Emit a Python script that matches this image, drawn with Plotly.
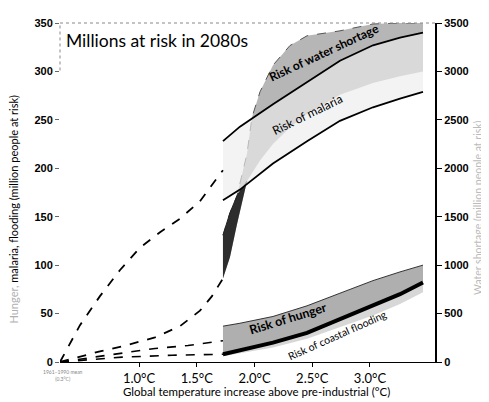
import plotly.graph_objects as go

# ---------------- data ----------------
# x positions in degrees C above pre-industrial
band_x = [1.727, 1.874, 2.160, 2.455, 2.740, 3.026, 3.260, 3.459]

# left axis: million people at risk
malaria_upper = [228, 243, 266, 289, 311, 327, 335, 340]
malaria_lower = [167, 178, 205, 228, 249, 263, 272, 279]

hunger_upper = [37, 40, 47, 58, 71, 84, 93, 100]
flood_line = [8, 12, 20, 30, 44, 58, 70, 82]
flood_lower = [6, 9, 15, 24, 36, 48, 60, 72]

# right axis: million people at risk of water shortage
water_x = [1.727, 1.788, 1.848, 1.935, 1.978, 2.048, 2.160, 2.307, 2.455, 2.740, 3.026, 3.260, 3.459]
water_upper = [1309, 1542, 1714, 2150, 2526, 2790, 3064, 3267, 3368, 3419, 3490, 3500, 3500]
water_lower = [862, 1085, 1420, 1867, 1950, 2080, 2250, 2420, 2560, 2760, 2880, 2950, 3000]

wedge_x = [1.727, 1.788, 1.848, 1.935]
wedge_upper = [1309, 1542, 1714, 1867]
wedge_lower = [862, 1085, 1420, 1867]

malaria_dash_x = [0.316, 0.489, 0.662, 0.836, 1.009, 1.182, 1.355, 1.528, 1.701, 1.727]
malaria_dash_y = [0, 38, 68, 95, 118, 134, 148, 166, 194, 198]

water_dash_x = [0.316, 0.662, 0.853, 1.139, 1.355, 1.528, 1.632, 1.727]
water_dash_y = [0, 110, 160, 255, 370, 530, 680, 862]

hunger_dash_x = [0.316, 0.853, 1.139, 1.424, 1.727]
hunger_dash_y = [0, 9, 14, 17, 22]

flood_dash_x = [0.316, 0.853, 1.286, 1.727]
flood_dash_y = [0, 5, 7, 8]

x_tickvals = [1.0, 1.5, 2.0, 2.5, 3.0]
x_ticktext = ["1.0°C", "1.5°C", "2.0°C", "2.5°C", "3.0°C"]
left_ticks = [0, 50, 100, 150, 200, 250, 300, 350]
right_ticks = [0, 500, 1000, 1500, 2000, 2500, 3000, 3500]

LEFT_MAX = 350
RIGHT_MAX = 3500
# the right axis is 10x the left one; water bands are drawn on the left axis
# (converted with this ratio) so that the malaria band can sit on top of them
R = LEFT_MAX / RIGHT_MAX

# ---------------- figure ----------------
fig = go.Figure()

def band(x, lo, hi, fill, yaxis="y", line_color="rgba(0,0,0,0)", line_width=0, dash=None):
    fig.add_trace(go.Scatter(x=x, y=lo, mode="lines", yaxis=yaxis,
                             line=dict(color="rgba(0,0,0,0)", width=0),
                             hoverinfo="skip", showlegend=False))
    fig.add_trace(go.Scatter(x=x, y=hi, mode="lines", yaxis=yaxis, fill="tonexty",
                             fillcolor=fill,
                             line=dict(color=line_color, width=line_width, dash=dash),
                             hoverinfo="skip", showlegend=False))

# water shortage band
band(water_x, [v * R for v in water_lower], [v * R for v in water_upper], "rgb(182,182,182)",
     line_color="#555", line_width=1, dash="dash")
band(wedge_x, [v * R for v in wedge_lower], [v * R for v in wedge_upper], "rgb(45,45,45)",
     line_color="#222", line_width=1)

# malaria band (semi-transparent so the water band shows through)
band(band_x, malaria_lower, malaria_upper, "rgba(236,236,236,0.65)")
# coastal flooding light band
band(band_x, flood_lower, flood_line, "rgb(215,215,215)")
# hunger band
band(band_x, flood_line, hunger_upper, "rgb(175,175,175)", line_color="#333", line_width=1)

# malaria lines
for ys in (malaria_upper, malaria_lower):
    fig.add_trace(go.Scatter(x=band_x, y=ys, mode="lines",
                             line=dict(color="black", width=1.8),
                             hoverinfo="skip", showlegend=False))
# coastal flooding thick line
fig.add_trace(go.Scatter(x=band_x, y=flood_line, mode="lines",
                         line=dict(color="black", width=4),
                         hoverinfo="skip", showlegend=False))

# dashed lines from the origin
fig.add_trace(go.Scatter(x=malaria_dash_x, y=malaria_dash_y, mode="lines",
                         line=dict(color="black", width=1.8, dash="dash"),
                         hoverinfo="skip", showlegend=False))
fig.add_trace(go.Scatter(x=water_dash_x, y=water_dash_y, mode="lines", yaxis="y2",
                         line=dict(color="black", width=1.8, dash="dash"),
                         hoverinfo="skip", showlegend=False))
fig.add_trace(go.Scatter(x=hunger_dash_x, y=hunger_dash_y, mode="lines",
                         line=dict(color="black", width=1.6, dash="dash"),
                         hoverinfo="skip", showlegend=False))
fig.add_trace(go.Scatter(x=flood_dash_x, y=flood_dash_y, mode="lines",
                         line=dict(color="black", width=1.6, dash="dash"),
                         hoverinfo="skip", showlegend=False))

FONT = "Lato, 'Open Sans', sans-serif"
NUMFONT = "'Liberation Sans', Arial, sans-serif"

# the page has an 8px body margin, so the figure is sized to fit the 489x402 window
# plot area lands at x 60..435, y 17..362 in the window
fig.update_layout(
    width=481, height=394,
    margin=dict(l=52, r=54, t=9, b=40),
    paper_bgcolor="white", plot_bgcolor="white",
    showlegend=False,
    xaxis=dict(range=[0.316, 3.563], tickvals=x_tickvals, ticktext=x_ticktext,
               showgrid=False, zeroline=False, showline=True, linecolor="black", linewidth=1,
               ticks="outside", ticklen=4, tickcolor="black",
               tickfont=dict(family=FONT, size=13, color="black")),
    yaxis=dict(range=[0, LEFT_MAX], tickvals=left_ticks, showgrid=False, zeroline=False,
               showline=False, ticks="outside", ticklen=4, tickcolor="#666",
               tickfont=dict(family=NUMFONT, size=11, color="black", weight="bold")),
    yaxis2=dict(range=[0, RIGHT_MAX], tickvals=right_ticks, overlaying="y", side="right",
                showgrid=False, zeroline=False, showline=True, linecolor="black", linewidth=2,
                ticks="outside", ticklen=5, tickcolor="black",
                tickfont=dict(family=NUMFONT, size=11, color="black", weight="bold")),
    shapes=[
        dict(type="line", xref="paper", yref="paper", x0=0, x1=1, y0=1, y1=1,
             line=dict(color="#888", width=1, dash="dot")),
        dict(type="line", xref="paper", yref="paper", x0=0, x1=0, y0=0.86, y1=1,
             line=dict(color="#888", width=1, dash="dot")),
    ],
)

ann = [
    dict(text="Millions at risk in 2080s", xref="paper", yref="paper", x=0.01, y=0.985,
         xanchor="left", yanchor="top", showarrow=False,
         font=dict(family=FONT, size=17.5, color="black")),
    dict(text="Risk of water shortage", x=2.60, y=320, xref="x", yref="y", textangle=-25,
         showarrow=False, font=dict(family=FONT, size=12, color="black", weight="bold")),
    dict(text="Risk of malaria", x=2.455, y=256, xref="x", yref="y", textangle=-26,
         showarrow=False, font=dict(family=FONT, size=12, color="black")),
    dict(text="Risk of hunger", x=2.29, y=45, xref="x", yref="y", textangle=-17,
         showarrow=False, font=dict(family=FONT, size=12.5, color="black", weight="bold")),
    dict(text="Risk of coastal flooding", x=2.72, y=28, xref="x", yref="y", textangle=-24,
         showarrow=False, font=dict(family=FONT, size=10.5, color="black")),
    dict(text="Global temperature increase above pre-industrial (°C)", xref="paper", yref="paper",
         x=0.525, y=-0.088, xanchor="center", yanchor="middle", showarrow=False,
         font=dict(family=FONT, size=11.5, color="black")),
    dict(text="<span style='color:#b0b0b0'>Hunger,</span> malaria, flooding (million people at risk)",
         xref="paper", yref="paper", x=-0.125, y=0.45, textangle=-90, showarrow=False,
         xanchor="center", yanchor="middle", font=dict(family=FONT, size=11, color="black")),
    dict(text="Water shortage (million people at risk)", xref="paper", yref="paper",
         x=1.115, y=0.455, textangle=-90, showarrow=False, xanchor="center", yanchor="middle",
         font=dict(family=FONT, size=10.5, color="#bbbbbb")),
    dict(text="1961–1990 mean<br>(0.3°C)", xref="paper", yref="paper", x=0.008, y=-0.04,
         xanchor="center", yanchor="middle", showarrow=False,
         font=dict(family=FONT, size=5, color="#888")),
]
fig.update_layout(annotations=ann)

fig.write_html("out.html")
